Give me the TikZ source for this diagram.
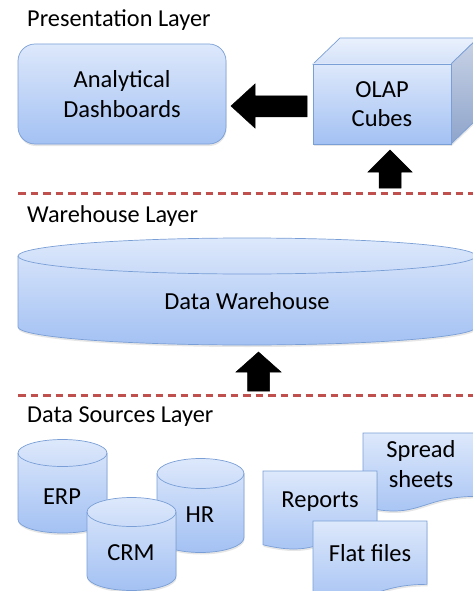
\documentclass[tikz,border=0pt]{standalone}
\usepackage{fontspec}
\setmainfont{Carlito}
\usetikzlibrary{shadows,calc}
\definecolor{bTop}{HTML}{DDE8FB}
\definecolor{bBot}{HTML}{A3C1F3}
\definecolor{bEdge}{HTML}{7A9FD6}
\definecolor{tTop}{HTML}{EAF1FD}
\definecolor{tBot}{HTML}{D3E1F8}
\definecolor{sTop}{HTML}{C9D3E6}
\definecolor{sBot}{HTML}{8EA4CB}
\definecolor{dashred}{HTML}{C0504D}
\newcommand\drawcyl[6]{% name, cx, rx, ytop, ybot, ry
  \path[blue,shad] ({#2-#3},#4) -- ({#2-#3},#5)
    arc[start angle=180,end angle=0,x radius=#3,y radius=#6]
    -- ({#2+#3},#4)
    arc[start angle=360,end angle=180,x radius=#3,y radius=#6] -- cycle;
  \draw[draw=bEdge,line width=0.7pt] ({#2-#3},#4)
    arc[start angle=180,end angle=0,x radius=#3,y radius=#6];
}
\newcommand\drawdoc[4]{% x, y, w, h
  \path[blue,shad] (#1,#2) -- ({#1+#3},#2) -- ({#1+#3},{#2+0.802*#4})
    .. controls ({#1+#3/2},{#2+0.802*#4}) and ({#1+#3/2},{#2+1.1075*#4}) .. (#1,{#2+0.934*#4}) -- cycle;
}
\begin{document}
\begin{tikzpicture}[x=1pt,y=-1pt,
  blue/.style={top color=bTop,bottom color=bBot,draw=bEdge,line width=0.7pt},
  shad/.style={drop shadow={opacity=0.2,shadow xshift=0.5pt,shadow yshift=-2pt}},
  lbl/.style={font=\fontsize{24.5}{29.5}\selectfont,align=center,inner sep=0pt},
  ttl/.style={font=\fontsize{24.3}{28}\selectfont,anchor=base west,inner sep=0pt},
  sepline/.style={draw=dashred,line width=3pt,dash pattern=on 7.5pt off 5pt},
  blk/.style={fill=black,draw=black,line width=0.5pt}]
\useasboundingbox (0,0) rectangle (473,591);
\clip (0,0) rectangle (473,591);

% titles
\node[ttl] (tp) at (27,27) {Presentation Layer};
\node[ttl] (tw) at (27,222) {Warehouse Layer};
\node[ttl] (ts) at (27,422) {Data Sources Layer};

% separators
\coordinate (s1a) at (18,193); \coordinate (s1b) at (473,193);
\coordinate (s2a) at (18,395); \coordinate (s2b) at (473,395);
\draw[sepline] (s1a) -- (s1b);
\draw[sepline] (s2a) -- (s2b);

% dashboards
\node[blue,shad,rounded corners=17pt,minimum width=208pt,minimum height=100pt,lbl] (dash) at (122,94) {Analytical\\Dashboards};

% OLAP cube
\path[top color=tTop,bottom color=tBot,draw=bEdge,line width=0.7pt] (313,64) -- (340,38) -- (478,38) -- (451,64) -- cycle;
\path[top color=sTop,bottom color=sBot,draw=bEdge,line width=0.7pt,shad] (451,64) -- (478,38) -- (478,118) -- (451,144) -- cycle;
\node[blue,shad,minimum width=138pt,minimum height=80pt,lbl] (olap) at (382,104) {OLAP\\Cubes};

% arrows
\path[blk] (231,106) -- (255,84) -- (255,96) -- (307,96) -- (307,117) -- (255,117) -- (255,128) -- cycle;
\path[blk] (390,150) -- (412,172) -- (401,172) -- (401,188) -- (379,188) -- (379,172) -- (368,172) -- cycle;
\path[blk] (258.5,352) -- (281,372) -- (269.5,372) -- (269.5,391) -- (247.5,391) -- (247.5,372) -- (236,372) -- cycle;

% data warehouse
\drawcyl{dw}{247}{229}{256}{327}{18}
\node[lbl] (dw) at (247,301) {Data Warehouse};

% source cylinders
\drawcyl{erp}{62.5}{44.5}{453}{519.5}{13.5}
\node[lbl] (erp) at (62,497) {ERP};
\drawcyl{hr}{200.5}{43.5}{473.5}{537.5}{15}
\node[lbl] (hr) at (200,515) {HR};
\drawcyl{crm}{131.5}{44.5}{512}{576}{14.5}
\node[lbl] (crm) at (131,553) {CRM};

% documents
\drawdoc{363}{433}{114}{79}
\node[lbl] (ss) at (421,464) {Spread\\sheets};
\drawdoc{263}{471}{114}{79}
\node[lbl] (rep) at (320,502) {Reports};
\drawdoc{313}{521}{114}{79}
\node[lbl] (flat) at (370,553) {Flat files};
\end{tikzpicture}
\end{document}
